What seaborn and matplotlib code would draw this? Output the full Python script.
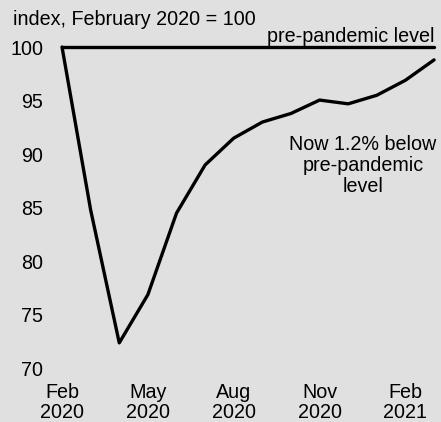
import matplotlib
matplotlib.use("Agg")
import matplotlib.pyplot as plt
import seaborn as sns
import pandas as pd

months = ["2020-02", "2020-03", "2020-04", "2020-05", "2020-06", "2020-07", "2020-08",
          "2020-09", "2020-10", "2020-11", "2020-12", "2021-01", "2021-02", "2021-03"]
index_values = [100.0, 84.8, 72.4, 76.9, 84.5, 89.0, 91.5, 93.0, 93.8, 95.05, 94.7, 95.5, 96.9, 98.8]
pre_pandemic = [100.0] * len(months)
tick_positions = [0, 3, 6, 9, 12]
tick_labels = ["Feb\n2020", "May\n2020", "Aug\n2020", "Nov\n2020", "Feb\n2021"]
y_ticks = [70, 75, 80, 85, 90, 95, 100]

df = pd.DataFrame({"month": months, "pos": range(len(months)),
                   "index": index_values, "pre": pre_pandemic})

sns.set_theme(style="white")
plt.rcParams["font.family"] = ["Liberation Sans", "DejaVu Sans"]
bg = "#e0e0e0"
fs = 14.2

fig = plt.figure(figsize=(4.41, 4.22), dpi=100, facecolor=bg)
W, H = 441, 422
x0 = 56.3; x1 = 439.8; ytop = 36.3; ybot = 379.3
ax = fig.add_axes([x0 / W, 1 - ybot / H, (x1 - x0) / W, (ybot - ytop) / H])
ax.set_facecolor(bg)

sns.lineplot(data=df, x="pos", y="pre", ax=ax, color="black", lw=2.4, clip_on=False)
sns.lineplot(data=df, x="pos", y="index", ax=ax, color="black", lw=2.4, clip_on=False)

ax.set_xlim(-0.2, 13.2)
ax.set_ylim(69, 101)
ax.set_xticks(tick_positions)
ax.set_xticklabels(tick_labels, fontsize=fs, linespacing=1.08)
ax.set_yticks(y_ticks)
ax.set_yticklabels([str(v) for v in y_ticks], fontsize=fs)
ax.tick_params(axis="both", length=0, colors="black")
ax.tick_params(axis="y", pad=9.5)
ax.tick_params(axis="x", pad=2.5)
for s in ax.spines.values():
    s.set_visible(False)
ax.set_xlabel("")
ax.set_ylabel("")

fig.text(13 / W, 1 - 19.5 / H, "index, February 2020 = 100", fontsize=fs,
         ha="left", va="center", color="black")
ax.text(13.0, 100.45, "pre-pandemic level", fontsize=fs, ha="right", va="baseline", color="black")
ax.text(10.52, 91.8, "Now 1.2% below\npre-pandemic\nlevel", fontsize=fs,
        ha="center", va="top", color="black", linespacing=1.12)

fig.savefig("out.png", dpi=100, facecolor=bg)
